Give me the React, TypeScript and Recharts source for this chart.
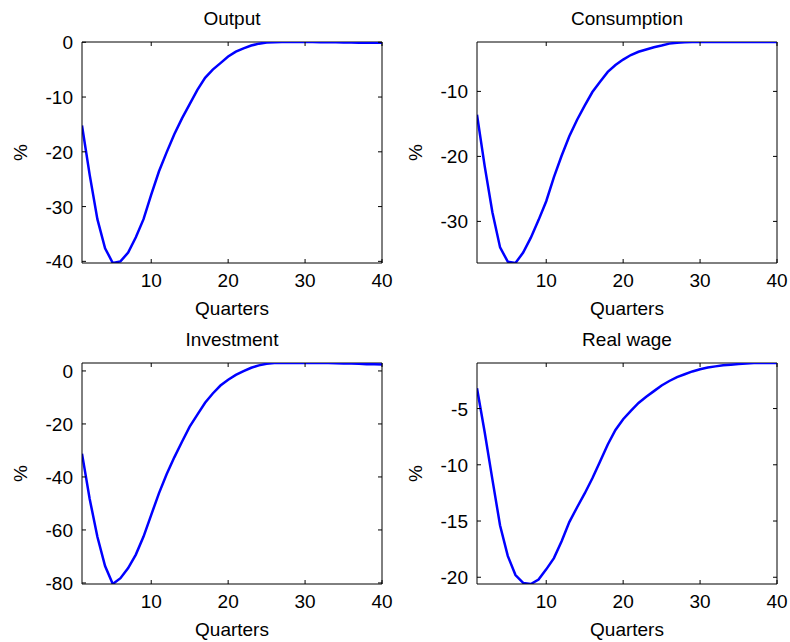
import React from 'react';
import { LineChart, Line, XAxis, YAxis, ReferenceLine } from 'recharts';

const quarters = [1, 2, 3, 4, 5, 6, 7, 8, 9, 10, 11, 12, 13, 14, 15, 16, 17, 18, 19, 20,
  21, 22, 23, 24, 25, 26, 27, 28, 29, 30, 31, 32, 33, 34, 35, 36, 37, 38, 39, 40];

const output = [-15.2, -24.2, -32.3, -37.6, -40.3, -40.0, -38.4, -35.6, -32.3, -27.8,
  -23.6, -20.1, -16.8, -13.9, -11.3, -8.7, -6.5, -5.0, -3.8, -2.6,
  -1.7, -1.1, -0.6, -0.25, -0.05, 0.0, 0.05, 0.05, 0.05, 0.05,
  0.05, 0.0, 0.0, 0.0, -0.05, -0.05, -0.1, -0.1, -0.1, -0.1];

const consumption = [-13.6, -21.5, -28.6, -34.0, -36.2, -36.4, -34.8, -32.5, -29.8, -26.9,
  -23.2, -19.9, -16.9, -14.4, -12.2, -10.1, -8.5, -7.0, -5.95, -5.1,
  -4.4, -3.9, -3.55, -3.2, -2.95, -2.65, -2.5, -2.45, -2.4, -2.4,
  -2.4, -2.4, -2.4, -2.4, -2.4, -2.4, -2.4, -2.4, -2.4, -2.4];

const investment = [-31.2, -48.3, -62.6, -73.6, -80.4, -78.2, -74.4, -69.3, -62.5, -54.3,
  -46.2, -39.0, -32.6, -26.7, -21.0, -16.5, -12.0, -8.5, -5.5, -3.3,
  -1.5, -0.1, 1.2, 2.1, 2.7, 3.0, 3.0, 3.0, 3.0, 3.0,
  3.0, 3.0, 3.0, 2.9, 2.8, 2.8, 2.7, 2.5, 2.5, 2.4];

const realWage = [-3.2, -7.1, -11.3, -15.4, -18.1, -19.8, -20.5, -20.6, -20.2, -19.3,
  -18.3, -16.8, -15.1, -13.8, -12.55, -11.2, -9.7, -8.2, -6.9, -5.95,
  -5.2, -4.5, -3.95, -3.45, -2.95, -2.55, -2.2, -1.95, -1.7, -1.5,
  -1.35, -1.25, -1.15, -1.1, -1.05, -1.0, -0.95, -0.95, -0.95, -0.95];

const xTicks = [10, 20, 30, 40];
const outputTicks = [-40, -30, -20, -10, 0];
const consumptionTicks = [-30, -20, -10];
const investmentTicks = [-80, -60, -40, -20, 0];
const realWageTicks = [-20, -15, -10, -5];

const FONT = '"Liberation Sans", Arial, sans-serif';
const FS = 19;
const TICK = 4;
const INK = '#000';
const CHART_W = 395;
const CHART_H = 321;
const M_TOP = 42;
const M_RIGHT = 13;
const Y_W = 82;
const X_H = 58;
const PLOT_W = CHART_W - M_RIGHT - Y_W;
const PLOT_H = CHART_H - M_TOP - X_H;

// bottom tick: inward tick at bottom + mirrored tick at top of the box, plus label
const BottomTick = (p: any) => (
  <g>
    <line x1={p.x} y1={p.y} x2={p.x} y2={p.y - TICK} stroke={INK} />
    <line x1={p.x} y1={p.y - PLOT_H} x2={p.x} y2={p.y - PLOT_H + TICK} stroke={INK} />
    <text x={p.x} y={p.y + 24} textAnchor="middle" fontFamily={FONT} fontSize={FS} fill={INK}>
      {p.payload.value}
    </text>
  </g>
);
// left tick: inward tick at left + mirrored tick at right of the box, plus label
const LeftTick = (p: any) => (
  <g>
    <line x1={p.x} y1={p.y} x2={p.x + TICK} y2={p.y} stroke={INK} />
    <line x1={p.x + PLOT_W} y1={p.y} x2={p.x + PLOT_W - TICK} y2={p.y} stroke={INK} />
    <text x={p.x - 9} y={p.y + 7} textAnchor="end" fontFamily={FONT} fontSize={FS} fill={INK}>
      {p.payload.value}
    </text>
  </g>
);

type PanelProps = {
  title: string;
  values: number[];
  ticks: number[];
  domain: [number, number];
  left: number;
  top: number;
};

function Panel({ title, values, ticks, domain, left, top }: PanelProps) {
  const data = quarters.map((q, i) => ({ q, v: values[i] }));
  return (
    <div style={{ position: 'absolute', left, top }}>
      <LineChart width={CHART_W} height={CHART_H} data={data} margin={{ top: M_TOP, right: M_RIGHT, bottom: 0, left: 0 }}>
        <XAxis
          dataKey="q"
          type="number"
          domain={[1, 40]}
          ticks={xTicks}
          interval={0}
          allowDataOverflow
          height={X_H}
          tickSize={0}
          tickMargin={0}
          axisLine={{ stroke: INK }}
          tickLine={false}
          tick={<BottomTick />}
          label={(lp: any) => {
            const vb = lp.viewBox;
            return (
              <text x={vb.x + vb.width / 2} y={vb.y + 52} textAnchor="middle" fontFamily={FONT} fontSize={FS} fill={INK}>
                Quarters
              </text>
            );
          }}
        />
        <YAxis
          type="number"
          domain={domain}
          ticks={ticks}
          interval={0}
          allowDataOverflow
          width={Y_W}
          tickSize={0}
          tickMargin={0}
          axisLine={{ stroke: INK }}
          tickLine={false}
          tick={<LeftTick />}
          label={(lp: any) => {
            const vb = lp.viewBox;
            const cx = 27;
            const cy = vb.y + vb.height / 2;
            return (
              <text x={cx} y={cy} transform={`rotate(-90 ${cx} ${cy})`} textAnchor="middle" fontFamily={FONT} fontSize={FS} fill={INK}>
                %
              </text>
            );
          }}
        />
        <ReferenceLine
          y={domain[1]}
          stroke={INK}
          ifOverflow="visible"
          label={(lp: any) => {
            const vb = lp.viewBox;
            return (
              <text x={vb.x + vb.width / 2} y={vb.y - 17} textAnchor="middle" fontFamily={FONT} fontSize={FS} fill={INK}>
                {title}
              </text>
            );
          }}
        />
        <ReferenceLine x={40} stroke={INK} ifOverflow="visible" />
        <Line
          type="linear"
          dataKey="v"
          stroke="#0000ff"
          strokeWidth={2.5}
          dot={false}
          activeDot={false}
          isAnimationActive={false}
        />
      </LineChart>
    </div>
  );
}

export default function App() {
  return (
    <div style={{ position: 'absolute', left: 0, top: 0, width: 790, height: 642, background: '#fff' }}>
      <Panel title="Output" values={output} ticks={outputTicks} domain={[-40.3, 0.05]} left={0} top={0} />
      <Panel title="Consumption" values={consumption} ticks={consumptionTicks} domain={[-36.4, -2.4]} left={395} top={0} />
      <Panel title="Investment" values={investment} ticks={investmentTicks} domain={[-80.4, 3.0]} left={0} top={321} />
      <Panel title="Real wage" values={realWage} ticks={realWageTicks} domain={[-20.6, -0.95]} left={395} top={321} />
    </div>
  );
}
